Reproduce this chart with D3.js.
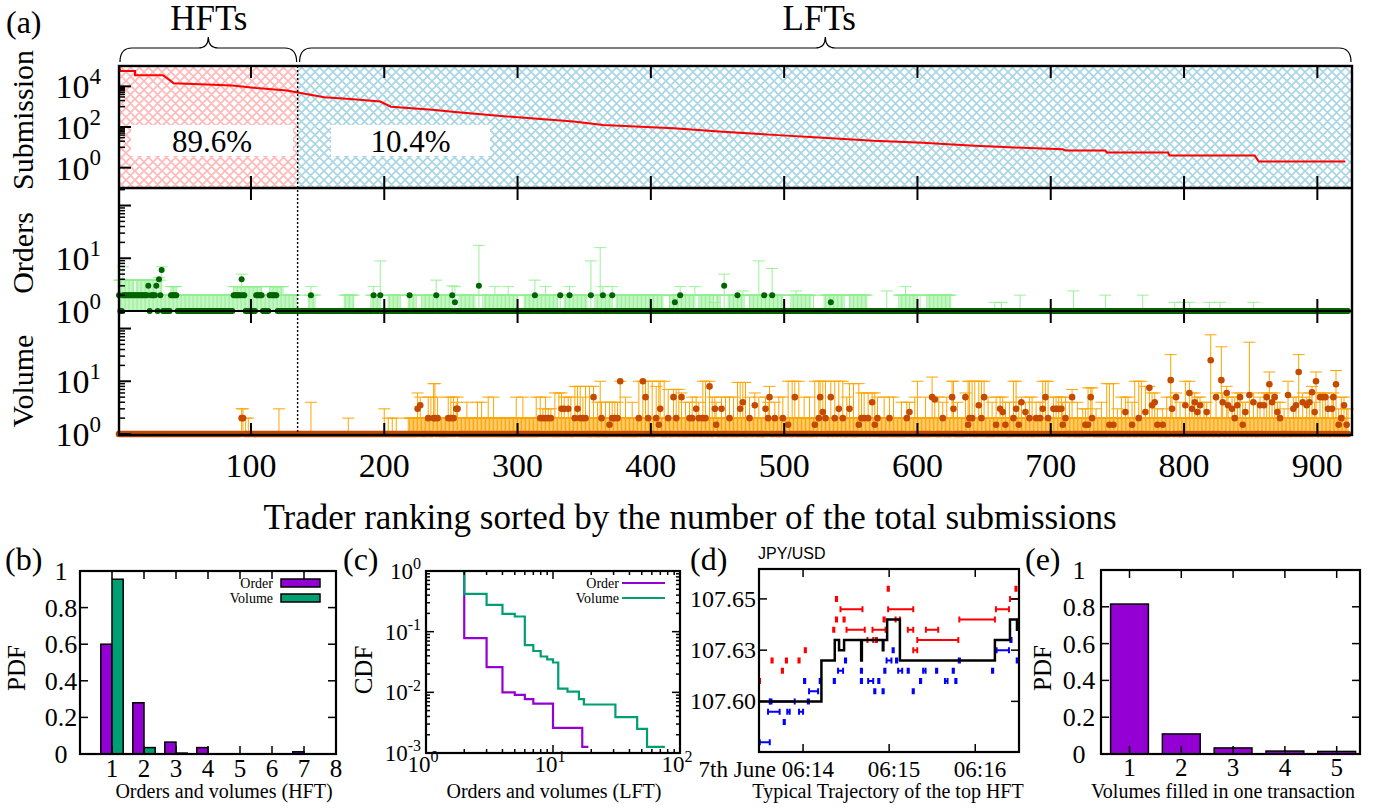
<!DOCTYPE html>
<html>
<head>
<meta charset="utf-8">
<script src="https://cdn.jsdelivr.net/npm/d3@7"></script>
<style>
  body { margin: 0; background: #fff; }
</style>
</head>
<body>
<div id="chart"></div>
<script>
/***********************************************************************/
// Data
/***********************************************************************/
// (a) submissions per trader, [rank, count] breakpoints of the ranked curve
const subSteps = [[1,100000],[2,56000],[13,56000],[13,35000],[34,35000],[40,18000],[42,14000],[86,11000],[104,8300],[127,6300],[135,5000],[155,2900],[177,2300],[197,1800],[205,1000],[236,700],[253,550],[292,330],[342,186],[364,126],[417,87],[454,59],[492,41],[529,30],[567,21],[604,17],[623,14],[643,12],[669,10],[709,8],[711,7],[741,7],[742,5.5],[788,5.5],[789,4],[853,4],[856,2],[921,2]]
const nTraders = 923
const nHFT = 135
const shareLabels = ['89.6%', '10.4%']
const groupLabels = ['HFTs', 'LFTs']
const rankTicks = [100, 200, 300, 400, 500, 600, 700, 800, 900]

// (a) orders: runs [from, to, mean, upper] and single traders [rank, mean, upper]
const orderRuns = [[1,1,2,3.85],[2,3,1,3.85],[4,4,2,6.9],[5,12,2,3.85],[13,13,2,2],[14,22,2,3.85],[23,23,3,3.85],[24,24,1,3.85],[25,28,2,3.85],[29,29,3,3.85],[30,30,1,2],[31,31,4,4.3],[32,32,2,3.85],[33,33,6,6.9],[34,39,1,2],[40,44,2,2.9],[45,86,1,2],[87,92,2,2.9],[93,93,4,5],[94,95,2,2.9],[96,103,1,2.9],[104,108,2,2.9],[109,113,1,2],[114,119,2,2.9],[120,124,1,2.9],[125,134,1,2],
  [143,148,1,2],[170,177,1,2],[190,196,1,2],[203,212,1,2],[218,224,1,2],[228,250,1,2],[256,268,1,2],[274,300,1,2],[305,330,1,2],[335,352,1,2],[358,370,1,2],[374,409,1,2],[414,432,1,2],[436,452,1,2],[458,470,1,2],[474,499,1,2],[505,520,1,2],[530,545,1,2],[549,562,1,2],[586,600,1,2],[607,625,1,2]]
const orderPts = [[145,2,2.9],[173,1,2],[192,2,2.9],[197,2,8.9],[219,2,2],[239,2,3.85],[251,2,3],[253,1.46,2.9],[271,3,17.6],[283,1,2.9],[293,1,2.9],[313,2,3.85],[321,1,2.9],[332,2,2],[339,2,2.9],[355,2,8.9],[362,1,15.9],[364,2,2.9],[371,2,2.9],[418,1.46,2],[422,2,2.9],[433,1,2.9],[448,1,1.46],[455,3,5],[465,2,2],[469,1,2.4],[481,1,8.9],[485,2,2],[491,2,6.4],[509,1,2.4],[522,1,2],[535,1.46,2],[552,1,2],[556,1,2],[577,1,2.4],[591,1,2.9],[597,1,2],[602,1,2],[612,1,2],[616,1,2],[625,1,2],[658,1,1.46],[663,1,1.46],[677,1,2],[717,1,2.4],[741,1,2],[769,1,2],[793,1,1.46],[799,1,1.46],[804,1,1.46],[819,1,1.46],[827,1,1.46],[852,1,1.46]]

// (a) volume: runs [from, to, mean, upper] and single traders [rank, mean, upper]
const volumeRuns = [[218,923,1,2]]
const volumePts = [[93,2,3],[94,2,3],[96,1,2],[98,1,2],[121,1,3],[145,1,4],[173,1,2],[200,1,3],[203,1,2],[206,1,2],[209,1,2],
  [225,3,6],[227,3.5,5],[233,2,5],[235,1,5],[237,2,9],[238,2,9],[240,2,5],[248,2,5],[250,2,5],[252,2,5],[254,3,4],[255,3,5],
  [262,1,4],[270,1,4],[273,1,4],[278,1,5],[282,1,5],[299,1,5],[304,1,5],[314,1,5],[317,2,5],[319,2,3],[321,2,5],[323,2,3],[325,2,3],[328,1,6],[331,1,6],[333,3,6],[335,3,5],[338,3,5],[340,1,5],[343,2,8],[345,3,8],[347,2,8],[349,2,5],[351,2,8],[354,1,8],[357,5,8],[360,1,4],[362,1,10],[363,2,4],[366,1,4],[369,1.5,4],[371,2,4],[373,2,4],[375,2,4],[377,10,10],[381,1,5],[386,1,4],[391,2,10],[394,10,10],[396,5,10],[398,2,10],[401,1,10],[404,2,8],[406,1.5,10],[407,3,10],[410,1,10],[413,2,7],[417,5,7],[419,2,7],[421,1,7],[423,5,6],[426,1,4],[429,2,4],[431,2,5],[434,3,5],[436,2,4],[439,2,10],[441,2,10],[444,8,10],[446,1,5],[448,3,5],[449,1.5,4],[453,3,5],[456,1,5],[459,2,5],[462,1,5],[465,1,9.5],[467,3,9.5],[469,4,9.5],[471,1,9.5],[474,2,5],[478,3.5,6],[481,1,5],[486,3,5],[488,2,4],[489,5,8],[493,2,4],[496,1,5],[499,2,5],[503,1.5,10],[506,1,10],[508,5,10],[511,1,10],[515,1,5],[519,1,5],[523,1.5,10],[526,2,10],[527,5,10],[529,2.6,10],[531,2,10],[535,5,10],[538,2,10],[541,3,10],[544,2,10],[547,1,5],[549,3,9],[552,1,9],[556,1.5,9],[558,2,6],[560,2,6],[563,2,6],[566,4,6],[568,1.5,6],[570,2,5],[575,1,5],[579,2,5],[582,1,5],[588,1,4],[592,2,4],[594,2.6,4],[600,1,10],
  [598,1,5],[606,1,5],[611,5,12],[613,4.5,5],[616,1,5],[619,2,4],[622,1,5],[626,5,10],[627,3,10],[630,1,4],[636,5,6],[638,1.5,10],[639,2,10],[641,2,10],[643,1,10],[646,3.5,10],[648,2,10],[650,5,10],[653,1,5],[656,1,4],[659,1.5,5],[662,3,5],[664,2.6,5],[666,1.5,4],[669,1,4],[672,2,10],[674,3,10],[676,1.5,4],[678,4,5],[681,2.6,4],[684,2,5],[686,1,5],[689,2,4],[692,2,4],[694,3,10],[696,5,10],[698,2,10],[702,3,5],[704,3,5],[706,3,5],[708,3,5],[709,1.5,4],[711,2,5],[714,1,4],[716,5,7],[720,1,4],[724,1,3],[726,1.5,3],[728,1.5,7.5],[730,5,7.5],[731,2,7.5],[734,1,3],[738,1,4],[742,1,9],[744,1.5,9],[747,1.5,9],[750,1,3],[753,1,5],[756,2.6,5],[758,1,5],[761,1.5,4],[763,1,10],[766,2,10],[768,1,10],[771,2.6,8],[774,7.5,8],[776,3.5,6],[778,4,6],[780,1.5,3],[784,1.5,3],[787,1,5],[790,10.5,32],[791,3,5],[794,5,6],[797,1,4],[801,3.5,10],[804,6,10],[806,3,6],[808,4,6],[810,2.6,5],[812,3.5,5],[815,1,4],[817,2.6,4],[820,25,76],[824,5,6],[828,10.5,45],[829,4,6],[832,6,8],[833,3.5,5],[836,3,5],[838,2,5],[840,3.5,6],[842,5,6],[844,1.5,4],[846,2.6,4],[849,5.5,55],[852,4,6],[855,1,4],[857,3.5,5],[860,3.5,6],[862,5,6],[864,8.8,15],[866,4,6],[868,5,6],[870,2.6,4],[872,2,4],[875,1,3],[878,5.5,10],[882,3,5],[884,3.5,5],[886,15,32],[889,4,6],[892,3.5,5],[894,4,6],[896,6.2,8],[898,2.6,4],[899,10,15],[902,5,6],[904,5,6],[906,5,6],[908,3,5],[911,3,5],[912,5,6],[914,8.8,16],[916,1.5,3],[918,2,5],[920,3.5,5],[922,1.5,3],[923,1,3]]

// (b) PDF of orders / volumes for HFTs
const bCats = [1, 2, 3, 4, 5, 6, 7]
const bOrder = [0.60, 0.28, 0.065, 0.035, 0, 0, 0.012]
const bVolume = [0.955, 0.035, 0.005, 0, 0, 0, 0]
const bTicksX = [1, 2, 3, 4, 5, 6, 7, 8]
const pdfTicks = [0, 0.2, 0.4, 0.6, 0.8, 1]
const pdfTickLabels = ['0', '0.2', '0.4', '0.6', '0.8', '1']

// (c) CDF of orders / volumes for LFTs, [size, cdf] step corners
const cOrder = [[2,1],[2,0.078],[3,0.026],[4,0.010],[5,0.0091],[6,0.0077],[7,0.0065],[10,0.0026],[17,0.00126],[19,0.00126]]
const cVolume = [[2,1],[2,0.42],[3,0.277],[4,0.197],[5,0.178],[6,0.06],[7,0.048],[8,0.039],[9,0.035],[10,0.031],[11,0.0115],[13,0.0103],[16,0.0077],[17.5,0.0063],[31,0.0039],[46,0.0025],[55,0.00126],[76,0.00126]]
const legendNames = ['Order', 'Volume']

// (d) trajectory of the top HFT, time in seconds after 06:14:00
const midPrice = [[-30.7,107.600],[12.8,107.620],[22.1,107.630],[25.1,107.625],[28.6,107.630],[40.5,107.620],[41.0,107.630],[55.6,107.625],[56.0,107.630],[58.6,107.640],[67.5,107.620],[133.7,107.630],[144.2,107.640],[149.1,107.635],[150.5,107.635]]
const askOrders = [[-30.5,-30.0,107.610],[-22.0,-21.2,107.620],[-14.8,-14.0,107.615],[-12.0,-11.2,107.620],[-3.2,-2.4,107.620],[1.2,2.0,107.625],[21.0,21.8,107.635],[22.9,23.7,107.650],[22.9,23.7,107.640],[28.2,29.0,107.640],[26.1,41.4,107.645],[30.3,43.0,107.635],[44.9,48.9,107.630],[48.4,57.5,107.635],[50.7,51.5,107.630],[59.0,59.8,107.655],[56.1,56.9,107.640],[64.5,67.5,107.640],[59.3,76.8,107.645],[73.0,76.8,107.635],[76.8,79.6,107.625],[79.6,108.2,107.630],[85.6,94.2,107.635],[108.9,133.7,107.640],[134.4,143.5,107.645],[144.2,150.5,107.650],[148.0,148.8,107.655]]
const bidOrders = [[-30.2,-23.2,107.580],[-22.8,-22.0,107.600],[-23.2,-5.8,107.600],[-24.4,-16.3,107.595],[-11.0,-9.3,107.595],[-2.8,0.0,107.595],[-13.5,-12.7,107.590],[0.7,1.5,107.610],[4.2,10.5,107.605],[3.3,4.1,107.600],[11.6,12.4,107.610],[21.4,22.2,107.610],[24.4,27.9,107.615],[29.2,30.0,107.620],[40.3,41.1,107.615],[40.3,41.1,107.610],[45.4,48.9,107.610],[49.6,50.4,107.605],[52.4,53.2,107.610],[55.4,56.2,107.605],[56.6,57.4,107.615],[58.2,61.6,107.620],[62.4,63.2,107.625],[64.8,65.6,107.620],[66.3,69.1,107.615],[72.9,73.7,107.615],[76.4,77.2,107.605],[81.5,82.3,107.610],[83.7,85.4,107.615],[92.7,93.5,107.615],[98.9,100.7,107.610],[104.3,105.1,107.615],[106.1,106.9,107.610],[108.5,109.3,107.620],[131.7,132.5,107.615],[134.9,143.5,107.625],[144.5,145.3,107.630],[148.9,149.7,107.620]]
const dTicksX = [0, 60, 120]
const dTickLabelsX = ['7th June 06:14', '06:15', '06:16']
const dTicksY = [107.60, 107.625, 107.65]
const dTickLabelsY = ['107.60', '107.63', '107.65']

// (e) PDF of volumes filled in one transaction
const eCats = [1, 2, 3, 4, 5]
const eValues = [0.815, 0.109, 0.033, 0.016, 0.014]

/***********************************************************************/
// Dom
/***********************************************************************/
const width = 1380
const height = 811
const purple = '#9400d3'
const teal = '#009e73'
const serif = "'Liberation Serif', serif"

const svg = d3.select('#chart')
	.append('svg')
	.attr('width', width)
	.attr('height', height)
	.style('display', 'block')

const defs = svg.append('defs')

function hatch(id, color) {
	const p = defs.append('pattern')
		.attr('id', id)
		.attr('patternUnits', 'userSpaceOnUse')
		.attr('width', 9)
		.attr('height', 9)
	p.append('path')
		.attr('d', 'M0,0L9,9M9,0L0,9M-2,7L2,11M7,-2L11,2M-2,2L2,-2M7,11L11,7')
		.attr('stroke', color)
		.attr('stroke-width', 1.7)
}
hatch('hatchRed', '#ffb9b9')
hatch('hatchBlue', '#a9d6e5')

function label(g, x, y, txt, size, anchor = 'middle') {
	return g.append('text')
		.attr('x', x)
		.attr('y', y)
		.attr('text-anchor', anchor)
		.style('font-family', serif)
		.style('font-size', size + 'px')
		.text(txt)
}

function powLabel(g, x, y, exp, size, anchor) {
	const t = g.append('text')
		.attr('x', x)
		.attr('y', y)
		.attr('text-anchor', anchor)
		.style('font-family', serif)
		.style('font-size', size + 'px')
	t.append('tspan').text('10')
	t.append('tspan')
		.attr('dy', -size * 0.42)
		.style('font-size', Math.round(size * 0.68) + 'px')
		.text(exp)
}

function vLabel(g, x, y, txt, size) {
	g.append('text')
		.attr('transform', `translate(${x},${y}) rotate(-90)`)
		.attr('text-anchor', 'middle')
		.style('font-family', serif)
		.style('font-size', size + 'px')
		.text(txt)
}

function tick(g, x1, y1, x2, y2, w = 1.5) {
	return g.append('line')
		.attr('x1', x1).attr('y1', y1)
		.attr('x2', x2).attr('y2', y2)
		.attr('stroke', '#000')
		.attr('stroke-width', w)
}

function minorLog(lo, hi) {
	const out = []
	for (let e = lo; e < hi; e++) for (let k = 2; k <= 9; k++) out.push(k * Math.pow(10, e))
	return out
}

function expand(runs, pts) {
	const rows = d3.range(1, nTraders + 1).map(r => ({ rank : r, mean : 1, upper : 1 }))
	runs.forEach(([a, b, m, u]) => {
		for (let r = a; r <= b; r++) { rows[r - 1].mean = m; rows[r - 1].upper = u }
	})
	pts.forEach(([r, m, u]) => { rows[r - 1].mean = m; rows[r - 1].upper = u })
	return rows
}

/***********************************************************************/
// Panel (a)
/***********************************************************************/
const gA = svg.append('g')

const xRank = d3.scaleLinear().domain([1, 926]).range([119, 1352])
const ySub = d3.scaleLog().domain([0.1, 1e5]).range([188, 66])
const yOrd = d3.scaleLog().domain([1, 215]).range([311, 188])
const yVol = d3.scaleLog().domain([1, 215]).range([434, 311])

const xSplit = xRank(nHFT)

// hatched backgrounds
gA.append('rect')
	.attr('x', xRank(1)).attr('y', 66)
	.attr('width', xSplit - xRank(1)).attr('height', 122)
	.attr('fill', 'url(#hatchRed)')
gA.append('rect')
	.attr('x', xSplit).attr('y', 66)
	.attr('width', xRank(926) - xSplit).attr('height', 122)
	.attr('fill', 'url(#hatchBlue)')

// share boxes
const boxes = [[131, 293], [331, 490]]
boxes.forEach(([x0, x1], i) => {
	gA.append('rect')
		.attr('x', x0).attr('y', 125)
		.attr('width', x1 - x0).attr('height', 31)
		.attr('fill', '#fff')
	label(gA, (x0 + x1) / 2, 152, shareLabels[i], 31)
})

// submission curve
gA.append('path')
	.datum(subSteps)
	.attr('fill', 'none')
	.attr('stroke', '#ff0000')
	.attr('stroke-width', 2)
	.attr('d', d3.line().x(d => xRank(d[0])).y(d => ySub(d[1])))

// orders and volume per trader
const orders = expand(orderRuns, orderPts)
const volumes = expand(volumeRuns, volumePts)

function errorBars(rows, y, color, sw) {
	gA.append('g')
		.selectAll('path')
		.data(rows.filter(d => d.upper > 1))
		.join('path')
		.attr('fill', 'none')
		.attr('stroke', color)
		.attr('stroke-width', sw)
		.attr('d', d => {
			const x = xRank(d.rank)
			const yt = y(d.upper)
			return `M${x},${y(1)}V${yt}M${x - 6},${yt}H${x + 6}`
		})
}

function dots(rows, y, color, r) {
	gA.append('g')
		.selectAll('circle')
		.data(rows)
		.join('circle')
		.attr('cx', d => xRank(d.rank))
		.attr('cy', d => y(d.mean))
		.attr('r', r)
		.attr('fill', color)
}

errorBars(orders, yOrd, '#90ee90', 0.9)
errorBars(volumes, yVol, '#ffa500', 1)
dots(orders.filter(d => d.mean === 1), yOrd, '#006400', 3)
dots(volumes.filter(d => d.mean === 1), yVol, '#c44a00', 3.3)

// baseline of the orders panel
tick(gA, xRank(1), yOrd(1), xRank(926), yOrd(1), 2.2)

dots(orders.filter(d => d.mean > 1), yOrd, '#006400', 3)
dots(volumes.filter(d => d.mean > 1), yVol, '#c44a00', 3.3)

// HFT / LFT split
gA.append('line')
	.attr('x1', xSplit).attr('x2', xSplit)
	.attr('y1', 66).attr('y2', 435)
	.attr('stroke', '#000')
	.attr('stroke-width', 1.4)
	.attr('stroke-dasharray', '2,2')

// frames
gA.append('rect')
	.attr('x', xRank(1)).attr('y', 66)
	.attr('width', xRank(926) - xRank(1)).attr('height', 369)
	.attr('fill', 'none')
	.attr('stroke', '#000')
	.attr('stroke-width', 2.4)
tick(gA, xRank(1), 188, xRank(926), 188, 2.4)

// x ticks on every panel edge
const panelsA = [[66, 188], [188, 311], [311, 435]]
panelsA.forEach(([t, b]) => {
	rankTicks.forEach(v => {
		tick(gA, xRank(v), t, xRank(v), t + 12, 2)
		tick(gA, xRank(v), b, xRank(v), b - 12, 2)
	})
})
rankTicks.forEach(v => label(gA, xRank(v), 477, v, 34))

// y ticks
const x0A = xRank(1)
;[1, 100, 10000].forEach(v => tick(gA, x0A, ySub(v), x0A + 12, ySub(v), 2))
;[10,20,30,40,50,60,70,80,90,1000,2000,3000,4000,5000,6000,7000,8000,9000].forEach(v => tick(gA, x0A, ySub(v), x0A + 6, ySub(v), 1.5))
;[[4, 10000], [2, 100], [0, 1]].forEach(([e, v]) => powLabel(gA, 101, ySub(v) + 12, e, 34, 'end'))

;[yOrd, yVol].forEach(y => {
	;[1, 10, 100].forEach(v => tick(gA, x0A, y(v), x0A + 12, y(v), 2))
	minorLog(0, 3).filter(v => v < 215).forEach(v => tick(gA, x0A, y(v), x0A + 6, y(v), 1.5))
	;[1, 10].forEach(v => powLabel(gA, 101, y(v) + 12, Math.log10(v), 34, 'end'))
})

// axis titles
vLabel(gA, 33, 120, 'Submission', 30)
vLabel(gA, 33, 253, 'Orders', 30)
vLabel(gA, 33, 381, 'Volume', 30)
label(gA, 690, 529, 'Trader ranking sorted by the number of the total submissions', 35)
label(gA, 6, 33, '(a)', 32, 'start')

// braces
function brace(xa, xb) {
	const xm = (xa + xb) / 2
	return `M${xa},62 Q${xa},48 ${xa + 12},48 L${xm - 10},48 Q${xm},48 ${xm},37 Q${xm},48 ${xm + 10},48 L${xb - 12},48 Q${xb},48 ${xb},62`
}
gA.append('path').attr('d', brace(120, xSplit - 1)).attr('fill', 'none').attr('stroke', '#000').attr('stroke-width', 1.2)
gA.append('path').attr('d', brace(xSplit + 2, 1351)).attr('fill', 'none').attr('stroke', '#000').attr('stroke-width', 1.2)
label(gA, (120 + xSplit) / 2, 30, groupLabels[0], 35)
label(gA, (xSplit + 1351) / 2 - 5, 30, groupLabels[1], 35)

/***********************************************************************/
// Bottom panels helpers
/***********************************************************************/
function frame(g, x0, x1, y0, y1) {
	g.append('rect')
		.attr('x', x0).attr('y', y0)
		.attr('width', x1 - x0).attr('height', y1 - y0)
		.attr('fill', 'none')
		.attr('stroke', '#000')
		.attr('stroke-width', 2.2)
}

/***********************************************************************/
// Panel (b)
/***********************************************************************/
const gB = svg.append('g')
const xB = d3.scaleLinear().domain([0, 8]).range([80, 336])
const yB = d3.scaleLinear().domain([0, 1]).range([754, 571])

bCats.forEach((c, i) => {
	if (bOrder[i] > 0) {
		gB.append('rect')
			.attr('x', xB(c - 0.35)).attr('y', yB(bOrder[i]))
			.attr('width', xB(c) - xB(c - 0.35)).attr('height', yB(0) - yB(bOrder[i]))
			.attr('fill', purple).attr('stroke', '#000').attr('stroke-width', 1.5)
	}
	if (bVolume[i] > 0) {
		gB.append('rect')
			.attr('x', xB(c)).attr('y', yB(bVolume[i]))
			.attr('width', xB(c + 0.35) - xB(c)).attr('height', yB(0) - yB(bVolume[i]))
			.attr('fill', teal).attr('stroke', '#000').attr('stroke-width', 1.5)
	}
})
frame(gB, 80, 336, 571, 754)
bTicksX.forEach(v => {
	tick(gB, xB(v), 754, xB(v), 746)
	tick(gB, xB(v), 571, xB(v), 579)
	label(gB, xB(v), 777, v, 25)
})
pdfTicks.forEach((v, i) => {
	tick(gB, 80, yB(v), 88, yB(v))
	tick(gB, 336, yB(v), 328, yB(v))
	label(gB, 61, yB(v) + 9, pdfTickLabels[i], 26)
})
// legend
label(gB, 273, 588, legendNames[0], 14, 'end')
label(gB, 273, 603, legendNames[1], 14, 'end')
gB.append('rect').attr('x', 281).attr('y', 579).attr('width', 39).attr('height', 8).attr('fill', purple).attr('stroke', '#000').attr('stroke-width', 1.5)
gB.append('rect').attr('x', 281).attr('y', 594).attr('width', 39).attr('height', 8).attr('fill', teal).attr('stroke', '#000').attr('stroke-width', 1.5)
vLabel(gB, 25, 668, 'PDF', 25)
label(gB, 224, 798, 'Orders and volumes (HFT)', 20)
label(gB, 5, 570, '(b)', 32, 'start')

/***********************************************************************/
// Panel (c)
/***********************************************************************/
const gC = svg.append('g')
const xC = d3.scaleLog().domain([1, 100]).range([426, 680])
const yC = d3.scaleLog().domain([1e-3, 1]).range([753, 571])
const stepLine = d3.line().curve(d3.curveStepAfter).x(d => xC(d[0])).y(d => yC(d[1]))

gC.append('path').datum(cOrder).attr('fill', 'none').attr('stroke', purple).attr('stroke-width', 2.2).attr('d', stepLine)
gC.append('path').datum(cVolume).attr('fill', 'none').attr('stroke', teal).attr('stroke-width', 2.2).attr('d', stepLine)
frame(gC, 426, 680, 571, 753)
;[1, 10, 100].forEach((v, i) => {
	tick(gC, xC(v), 753, xC(v), 745)
	tick(gC, xC(v), 571, xC(v), 579)
	powLabel(gC, xC(v) - 3, 772, i, 23, 'middle')
})
minorLog(0, 2).forEach(v => {
	tick(gC, xC(v), 753, xC(v), 749)
	tick(gC, xC(v), 571, xC(v), 575)
})
;[1e-3, 1e-2, 1e-1, 1].forEach((v, i) => {
	tick(gC, 426, yC(v), 434, yC(v))
	tick(gC, 680, yC(v), 672, yC(v))
	powLabel(gC, 421, yC(v) + 8, i - 3, 23, 'end')
})
minorLog(-3, 0).forEach(v => {
	tick(gC, 426, yC(v), 430, yC(v))
	tick(gC, 680, yC(v), 676, yC(v))
})
label(gC, 619, 588, legendNames[0], 14, 'end')
label(gC, 619, 603, legendNames[1], 14, 'end')
tick(gC, 622, 583, 665, 583, 2.2).attr('stroke', purple)
tick(gC, 622, 598, 665, 598, 2.2).attr('stroke', teal)
vLabel(gC, 372, 670, 'CDF', 25)
label(gC, 554, 798, 'Orders and volumes (LFT)', 20)
label(gC, 343, 570, '(c)', 32, 'start')

/***********************************************************************/
// Panel (d)
/***********************************************************************/
const gD = svg.append('g')
const xD = d3.scaleLinear().domain([-30.7, 150.5]).range([759, 1019])
const yD = d3.scaleLinear().domain([107.5753, 107.6646]).range([752, 569])

const clipD = defs.append('clipPath').attr('id', 'clipD')
clipD.append('rect').attr('x', 759).attr('y', 569).attr('width', 260).attr('height', 183)
const gDp = gD.append('g').attr('clip-path', 'url(#clipD)')

function bookMarks(data, color) {
	gDp.append('g')
		.selectAll('path')
		.data(data)
		.join('path')
		.attr('fill', 'none')
		.attr('stroke', color)
		.attr('stroke-width', 2)
		.attr('d', ([a, b, p]) => {
			const x1 = xD(a), x2 = xD(b), y = yD(p)
			return `M${x1},${y}H${x2}M${x1},${y - 3}V${y + 3}M${x2},${y - 3}V${y + 3}`
		})
}
bookMarks(askOrders, '#ff0000')
bookMarks(bidOrders, '#0000ff')
gDp.append('path')
	.datum(midPrice)
	.attr('fill', 'none')
	.attr('stroke', '#000')
	.attr('stroke-width', 2.5)
	.attr('d', d3.line().curve(d3.curveStepAfter).x(d => xD(d[0])).y(d => yD(d[1])))
frame(gD, 759, 1019, 569, 752)
dTicksX.forEach((v, i) => {
	tick(gD, xD(v), 752, xD(v), 744)
	tick(gD, xD(v), 569, xD(v), 577)
	label(gD, xD(v) + 31, 777, dTickLabelsX[i], 23, 'end')
})
dTicksY.forEach((v, i) => {
	tick(gD, 759, yD(v), 767, yD(v))
	tick(gD, 1019, yD(v), 1011, yD(v))
	label(gD, 756, yD(v) + 8, dTickLabelsY[i], 24, 'end')
})
gD.append('text')
	.attr('x', 758).attr('y', 559)
	.style('font-family', "'Liberation Sans', Arial, sans-serif")
	.style('font-size', '16px')
	.text('JPY/USD')
label(gD, 888, 798, 'Typical Trajectory of the top HFT', 20)
label(gD, 690, 570, '(d)', 32, 'start')

/***********************************************************************/
// Panel (e)
/***********************************************************************/
const gE = svg.append('g')
const xE = d3.scaleLinear().domain([0.45, 5.45]).range([1101, 1360])
const yE = d3.scaleLinear().domain([0, 1]).range([754, 570])

eCats.forEach((c, i) => {
	gE.append('rect')
		.attr('x', xE(c - 0.365)).attr('y', yE(eValues[i]))
		.attr('width', xE(c + 0.365) - xE(c - 0.365)).attr('height', yE(0) - yE(eValues[i]))
		.attr('fill', purple).attr('stroke', '#000').attr('stroke-width', 1.5)
})
frame(gE, 1101, 1360, 570, 754)
eCats.forEach(v => {
	tick(gE, xE(v), 754, xE(v), 746)
	tick(gE, xE(v), 570, xE(v), 578)
	label(gE, xE(v), 776, v, 25)
})
pdfTicks.forEach((v, i) => {
	tick(gE, 1101, yE(v), 1109, yE(v))
	tick(gE, 1360, yE(v), 1352, yE(v))
	label(gE, 1079, yE(v) + 9, pdfTickLabels[i], 26)
})
vLabel(gE, 1051, 668, 'PDF', 25)
label(gE, 1223, 798, 'Volumes filled in one transaction', 20)
label(gE, 1025, 570, '(e)', 32, 'start')
</script>
</body>
</html>
